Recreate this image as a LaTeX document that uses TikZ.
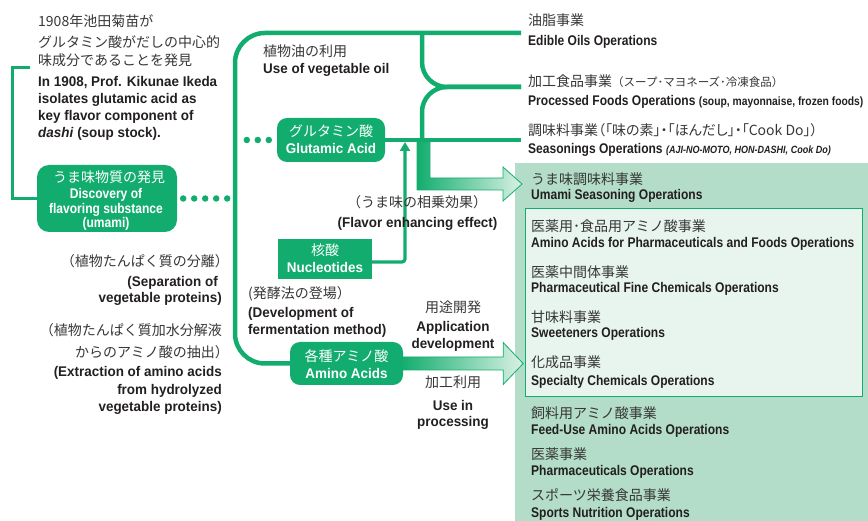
\documentclass[tikz,border=0pt]{standalone}
\usepackage{fontspec}
\usetikzlibrary{arrows.meta}
\setmainfont{Liberation Sans}
\newfontfamily\jpf{Noto Sans CJK JP}
\newfontfamily\jpfp{Noto Sans CJK JP}[RawFeature=+palt]
\newfontfamily\ennf{Liberation Sans}[FakeStretch=0.86]
\newfontfamily\enwf{Liberation Sans}[FakeStretch=0.96]

\definecolor{ajigreen}{RGB}{18,173,110}
\definecolor{panelgreen}{RGB}{179,221,200}
\definecolor{innergreen}{RGB}{232,245,238}
\definecolor{fadegreen}{RGB}{218,241,229}
\definecolor{ink}{RGB}{35,31,32}
\definecolor{jink}{RGB}{55,55,55}

\tikzset{
  jp/.style={font=\jpf\fontsize{14}{16}\selectfont, text=jink, inner sep=0pt, anchor=base west},
  enn/.style={font=\ennf\bfseries\fontsize{14}{16}\selectfont, text=ink, inner sep=0pt, anchor=base west},
  enw/.style={font=\enwf\bfseries\fontsize{14}{16}\selectfont, text=ink, inner sep=0pt, anchor=base west},
  wjp/.style={jp, text=white, anchor=base},
  wenw/.style={enw, text=white, anchor=base},
  wenn/.style={enn, text=white, anchor=base},
  gbox/.style={fill=ajigreen, draw=none, rounded corners=10pt, inner sep=0pt},
  gline/.style={draw=ajigreen, line width=4.5pt},
  nline/.style={draw=ajigreen, line width=3.2pt},
  dotline/.style={draw=ajigreen, line width=6.5pt, line cap=round, dash pattern=on 0pt off 11pt},
  bigarrow/.style={draw=ajigreen, line width=0.8pt, left color=ajigreen, right color=fadegreen},
}

\begin{document}
\begin{tikzpicture}[x=1pt, y=-1pt]
\useasboundingbox (0,0) rectangle (868,521);

% business panel on the right
\fill[panelgreen] (515,163) rectangle (868,521);
\draw[ajigreen, line width=1pt, fill=innergreen] (525,209) rectangle (862,397);

% green boxes
\node[gbox, rounded corners=12pt, minimum width=140pt, minimum height=67pt] (umami) at (107,198.5) {};
\node[gbox, minimum width=108pt, minimum height=44pt] (glu) at (331,140) {};
\node[gbox, rounded corners=0pt, minimum width=94pt, minimum height=40pt] (nuc) at (325,259) {};
\node[gbox, minimum width=113pt, minimum height=43pt] (amino) at (346.5,363.5) {};

% free ends of the branches
\coordinate (oilEnd) at (521,33);
\coordinate (foodEnd) at (521,87);
\coordinate (seasEnd) at (521,140);
\coordinate (forkTop) at (422,33);
\coordinate (forkLow) at (422,140);
\coordinate (noteEnd) at (30,68);
\coordinate (nucOut) at ([yshift=-3pt]nuc.east);
\coordinate (nucIn) at (405,142);

% bracket from the 1908 note to the discovery box
\draw[gline, line width=3pt] (noteEnd) -- (12,68) |- (umami.west);

% main trunk: vegetable oil at the top, amino acids at the bottom
\draw[gline, rounded corners=30pt] (oilEnd) -| (235,363.5) -- (amino.west);
\draw[gline, rounded corners=25pt] (forkTop) |- (foodEnd);
\draw[gline, rounded corners=25pt] (forkLow) |- (foodEnd);
\draw[gline] (glu.east) -- (seasEnd);

% dotted links
\draw[dotline] ([xshift=6pt]umami.east) -- ++(45,0);
\draw[dotline] ([xshift=-30pt]glu.west) -- ++(23,0);

% nucleotides feed into glutamic acid
\draw[nline, rounded corners=3pt, -{Triangle[length=9pt,width=10pt]}] (nucOut) -| (nucIn);

% broad arrows into the business panel
\path[bigarrow] (forkLow) ++(-5,2) -- ++(13,0) -- ++(0,36) -- ++(73,0) -- ++(0,-11)
  -- ++(19,17) -- ++(-19,17) -- ++(0,-11) -- ++(-86,0) -- cycle;
\path[bigarrow] (amino.east) ++(-2,-6.5) -- ++(102,0) -- ++(0,-14.5) -- ++(20,21)
  -- ++(-20,21) -- ++(0,-14.5) -- ++(-102,0) -- cycle;

% 1908 note
\node[jp] (n1) at (38,27) {1908年池田菊苗が};
\node[jp] (n2) at (38,48) {グルタミン酸がだしの中心的};
\node[jp] (n3) at (38,66) {味成分であることを発見};
\node[enw] (n4) at (38,87) {In 1908, Prof. Kikunae Ikeda};
\node[enw] (n5) at (38,104) {isolates glutamic acid as};
\node[enw] (n6) at (38,121) {key flavor component of};
\node[enw] (n7) at (38,138) {\textit{dashi} (soup stock).};

% box labels
\node[wjp] (u1) at (109,183) {うま味物質の発見};
\node[wenn] (u2) at (106,199) {Discovery of};
\node[wenn] (u3) at (106,214) {flavoring substance};
\node[wenn] (u4) at (106,228) {(umami)};
\node[wjp] (g1) at (331,137) {グルタミン酸};
\node[wenw] (g2) at (331,154) {Glutamic Acid};
\node[wjp] (k1) at (325,256) {核酸};
\node[wenw] (k2) at (325,273) {Nucleotides};
\node[wjp] (a1) at (346.5,362) {各種アミノ酸};
\node[wenw] (a2) at (346.5,379) {Amino Acids};

% captions along the trunk
\node[jp] (v1) at (263,57) {植物油の利用};
\node[enw] (v2) at (263,74) {Use of vegetable oil};
\node[jp, anchor=base] (f1) at (417,208) {（うま味の相乗効果）};
\node[enw, anchor=base] (f2) at (417.5,228) {(Flavor enhancing effect)};
\node[jp] (m1) at (248,299) {(発酵法の登場）};
\node[enw] (m2) at (248,318) {(Development of};
\node[enw] (m3) at (248,335) {fermentation method)};
\node[jp, anchor=base] (p1) at (453,313) {用途開発};
\node[enw, anchor=base] (p2) at (453,332) {Application};
\node[enw, anchor=base] (p3) at (453,349) {development};
\node[jp, anchor=base] (q1) at (453,388) {加工利用};
\node[enw, anchor=base] (q2) at (453,410) {Use in};
\node[enw, anchor=base] (q3) at (453,427) {processing};

% captions on the left
\node[jp, anchor=base east] (s1) at (229,267) {（植物たんぱく質の分離）};
\node[enw, anchor=base east] (s2) at (218,287) {(Separation of};
\node[enw, anchor=base east] (s3) at (222,303) {vegetable proteins)};
\node[jp, anchor=base east] (h1) at (222,336) {（植物たんぱく質加水分解液};
\node[jp, anchor=base east] (h2) at (229,358) {からのアミノ酸の抽出）};
\node[enw, anchor=base east] (h3) at (222,377) {(Extraction of amino acids};
\node[enw, anchor=base east] (h4) at (222,395) {from hydrolyzed};
\node[enw, anchor=base east] (h5) at (222,412) {vegetable proteins)};

% businesses at the branch ends
\node[jp] (b1) at (528,26) {油脂事業};
\node[enn] (b2) at (528,46) {Edible Oils Operations};
\node[jp] (b3) at (528,87) {加工食品事業{\fontsize{11.5}{13}\selectfont（スープ･マヨネーズ･冷凍食品）}};
\node[enn] (b4) at (528,106) {Processed Foods Operations {\fontsize{12}{14}\selectfont (soup, mayonnaise, frozen foods)}};
\node[jp] (b5) at (528,136) {調味料事業{\jpfp（「味の素」・「ほんだし」・「Cook Do」）}};
\node[enn] (b6) at (528,154) {Seasonings Operations {\fontsize{10.5}{12}\selectfont\itshape (AJI-NO-MOTO, HON-DASHI, Cook Do)}};

% businesses inside the panel
\node[jp] (c1) at (531,185) {うま味調味料事業};
\node[enn] (c2) at (531,200) {Umami Seasoning Operations};
\node[jp] (c3) at (531,232) {医薬用･食品用アミノ酸事業};
\node[enn] (c4) at (531,248) {Amino Acids for Pharmaceuticals and Foods Operations};
\node[jp] (c5) at (531,278) {医薬中間体事業};
\node[enn] (c6) at (531,293) {Pharmaceutical Fine Chemicals Operations};
\node[jp] (c7) at (531,323) {甘味料事業};
\node[enn] (c8) at (531,338) {Sweeteners Operations};
\node[jp] (c9) at (531,368) {化成品事業};
\node[enn] (c10) at (531,385) {Specialty Chemicals Operations};
\node[jp] (c11) at (531,418) {飼料用アミノ酸事業};
\node[enn] (c12) at (531,435) {Feed-Use Amino Acids Operations};
\node[jp] (c13) at (531,459) {医薬事業};
\node[enn] (c14) at (531,475) {Pharmaceuticals Operations};
\node[jp] (c15) at (531,500) {スポーツ栄養食品事業};
\node[enn] (c16) at (531,517) {Sports Nutrition Operations};
\end{tikzpicture}
\end{document}
